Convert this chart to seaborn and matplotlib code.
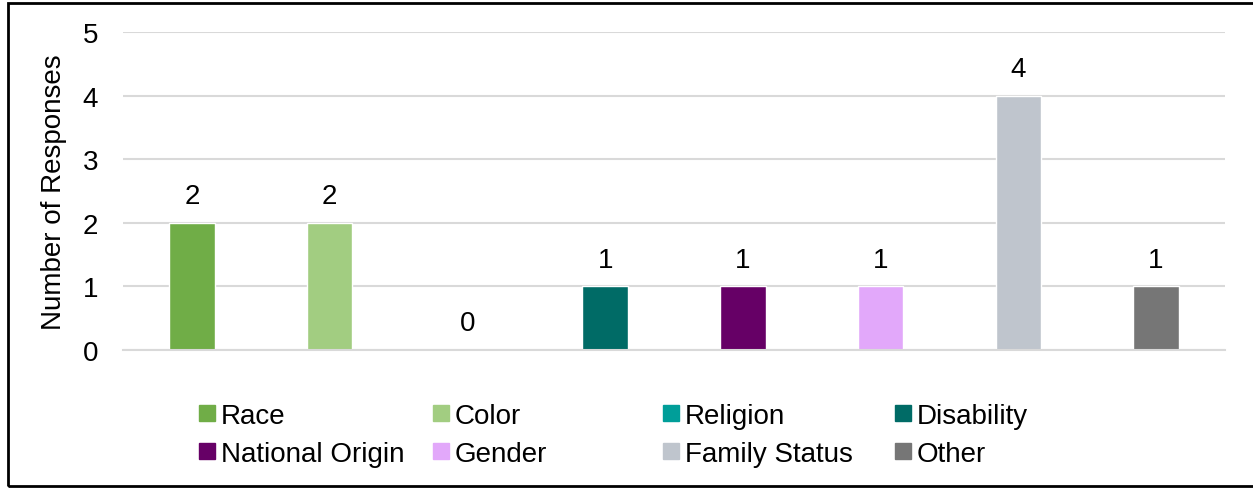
import matplotlib
matplotlib.use("Agg")
import matplotlib.pyplot as plt
import matplotlib.patches as mpatches
import seaborn as sns
import pandas as pd

categories = ['Race', 'Color', 'Religion', 'Disability', 'National Origin', 'Gender', 'Family Status', 'Other']
responses = [2, 2, 0, 1, 1, 1, 4, 1]
colors = ['#70AD47', '#A2CD81', '#009E99', '#006B66', '#660066', '#E2A8FA', '#BFC5CD', '#767676']
yticks = [0, 1, 2, 3, 4, 5]

sns.set_style("white")
plt.rcParams['font.family'] = ['Liberation Sans', 'DejaVu Sans']
plt.rcParams['text.color'] = 'black'
plt.rcParams['axes.labelcolor'] = 'black'
plt.rcParams['ytick.color'] = 'black'

FS = 20
W, H = 1253, 489

df = pd.DataFrame({"Category": categories, "Responses": responses})

fig = plt.figure(figsize=(W / 100, H / 100), dpi=100)
ax = fig.add_axes([123 / W, 138 / H, 1102 / W, 318 / H])

sns.barplot(data=df, x="Category", y="Responses", hue="Category", palette=colors,
            order=categories, hue_order=categories, dodge=False, width=0.33,
            legend=False, ax=ax, saturation=1)

for c in ax.containers:
    ax.bar_label(c, fmt='%d', padding=10, fontsize=FS)

ax.set_ylim(0, 5)
ax.set_yticks(yticks)
ax.tick_params(axis='y', labelsize=FS, length=0, pad=18)
ax.set_xticks([])
ax.set_xlabel('')
ax.set_ylabel('Number of Responses', fontsize=FS, labelpad=11)
ax.grid(axis='y', color='#D9D9D9', linewidth=1.5)
ax.set_axisbelow(True)
for s in ['top', 'right', 'left']:
    ax.spines[s].set_visible(False)
ax.spines['bottom'].set_color('#D9D9D9')
ax.spines['bottom'].set_linewidth(1.5)

# legend drawn by hand, Excel-style uneven columns
col_x = [199, 433, 663, 895]
row_y = [414, 452]
for i, (cat, col) in enumerate(zip(categories, colors)):
    x = col_x[i % 4]
    y = row_y[i // 4]
    fig.add_artist(mpatches.Rectangle((x / W, 1 - (y + 8) / H), 16 / W, 16 / H,
                                      transform=fig.transFigure, color=col))
    fig.text((x + 22) / W, 1 - y / H, cat, fontsize=FS, va='center_baseline', ha='left')

# outer frame
fig.add_artist(mpatches.Rectangle((8 / W, 2 / H), 1260 / W, 483 / H, transform=fig.transFigure,
                                  fill=False, edgecolor='black', linewidth=2))

fig.savefig("out.png", dpi=100)
